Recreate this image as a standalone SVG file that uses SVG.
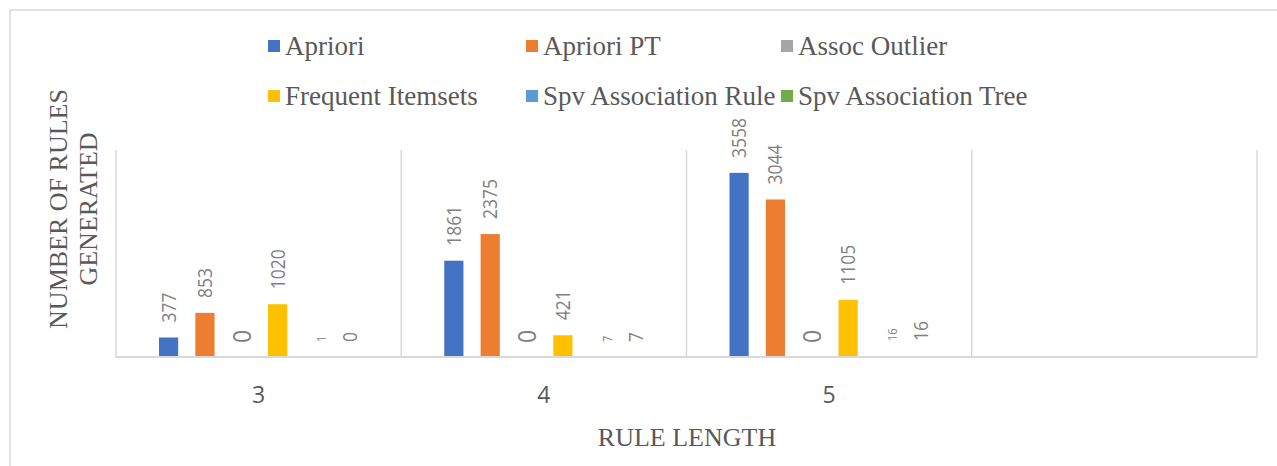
<svg xmlns="http://www.w3.org/2000/svg" width="1277" height="466" viewBox="0 0 1277 466">
<style>
.grid{stroke:#D9D9D9;stroke-width:1.5;fill:none}
.axis{stroke:#D9D9D9;stroke-width:2;fill:none}
.lbl{font-family:"Open Sans","Liberation Sans",sans-serif;font-size:17.5px;fill:#7F7F7F}
.lblbig{font-family:"Open Sans","Liberation Sans",sans-serif;font-size:23px;fill:#7F7F7F}
.lblsm{font-family:"Open Sans","Liberation Sans",sans-serif;font-size:11px;fill:#7F7F7F}
.cat{font-family:"Open Sans","Liberation Sans",sans-serif;font-size:23px;fill:#595959;text-anchor:middle}
.title{font-family:"Liberation Serif","Times New Roman",serif;font-size:26px;fill:#595959}
.leg{font-family:"Liberation Serif","Times New Roman",serif;font-size:27px;fill:#595959}
.s1{fill:#4472C4}.s2{fill:#ED7D31}.s3{fill:#A5A5A5}.s4{fill:#FFC000}.s5{fill:#5B9BD5}.s6{fill:#70AD47}
</style>
<rect x="0" y="0" width="1277" height="466" fill="#FFFFFF"/>
<rect id="chart-border" x="10" y="10" width="1300" height="500" class="grid"/>

<g id="gridlines">
<line class="grid" x1="116" y1="150" x2="116" y2="357"/>
<line class="grid" x1="401.25" y1="150" x2="401.25" y2="357"/>
<line class="grid" x1="686.5" y1="150" x2="686.5" y2="357"/>
<line class="grid" x1="971.75" y1="150" x2="971.75" y2="357"/>
<line class="grid" x1="1257" y1="150" x2="1257" y2="357"/>
</g>

<g id="legend">
<rect class="s1" x="268" y="40" width="12" height="12"/><text class="leg" x="285" y="55">Apriori</text>
<rect class="s2" x="526" y="40" width="12" height="12"/><text class="leg" x="543" y="55">Apriori PT</text>
<rect class="s3" x="781" y="40" width="12" height="12"/><text class="leg" x="798" y="55">Assoc Outlier</text>
<rect class="s4" x="268" y="90" width="12" height="12"/><text class="leg" x="285" y="105">Frequent Itemsets</text>
<rect class="s5" x="526" y="90" width="12" height="12"/><text class="leg" x="543" y="105">Spv Association Rule</text>
<rect class="s6" x="781" y="90" width="12" height="12"/><text class="leg" x="798" y="105">Spv Association Tree</text>
</g>

<g id="cat-3">
<rect class="s1" x="159" y="337.49" width="19.2" height="19.51"/>
<rect class="s2" x="195.35" y="312.86" width="19.2" height="44.14"/>
<rect class="s4" x="268.05" y="304.21" width="19.2" height="52.79"/>
<rect class="s5" x="304.4" y="356.95" width="19.2" height="0.05"/>
<text class="lbl" transform="translate(175.6,322.5) scale(1.12,1) rotate(-90)">377</text>
<text class="lbl" transform="translate(211.95,297.9) scale(1.12,1) rotate(-90)">853</text>
<text class="lblbig" transform="translate(250.5,343) scale(1.12,1) rotate(-90)">0</text>
<text class="lbl" transform="translate(284.65,289.2) scale(1.12,1) rotate(-90)">1020</text>
<text class="lblsm" transform="translate(326.4,342) scale(1.12,1) rotate(-90)">1</text>
<text class="lbl" transform="translate(357.35,342) scale(1.12,1) rotate(-90)">0</text>
<text class="cat" x="258.6" y="403">3</text>
</g>

<g id="cat-4">
<rect class="s1" x="444.25" y="260.69" width="19.2" height="96.31"/>
<rect class="s2" x="480.6" y="234.09" width="19.2" height="122.91"/>
<rect class="s4" x="553.3" y="335.21" width="19.2" height="21.79"/>
<rect class="s5" x="589.65" y="356.64" width="19.2" height="0.36"/>
<rect class="s6" x="626" y="356.64" width="19.2" height="0.36"/>
<text class="lbl" transform="translate(460.85,245.7) scale(1.12,1) rotate(-90)">1861</text>
<text class="lbl" transform="translate(497.2,219.1) scale(1.12,1) rotate(-90)">2375</text>
<text class="lblbig" transform="translate(535.8,343) scale(1.12,1) rotate(-90)">0</text>
<text class="lbl" transform="translate(569.9,320.2) scale(1.12,1) rotate(-90)">421</text>
<text class="lblsm" transform="translate(611.65,342) scale(1.12,1) rotate(-90)">7</text>
<text class="lbl" transform="translate(642.6,342) scale(1.12,1) rotate(-90)">7</text>
<text class="cat" x="543.9" y="403">4</text>
</g>

<g id="cat-5">
<rect class="s1" x="729.5" y="172.87" width="19.2" height="184.13"/>
<rect class="s2" x="765.85" y="199.47" width="19.2" height="157.53"/>
<rect class="s4" x="838.55" y="299.82" width="19.2" height="57.18"/>
<rect class="s5" x="874.9" y="356.17" width="19.2" height="0.83"/>
<rect class="s6" x="911.25" y="356.17" width="19.2" height="0.83"/>
<text class="lbl" transform="translate(746.1,157.9) scale(1.12,1) rotate(-90)">3558</text>
<text class="lbl" transform="translate(782.45,184.5) scale(1.12,1) rotate(-90)">3044</text>
<text class="lblbig" transform="translate(821,343) scale(1.12,1) rotate(-90)">0</text>
<text class="lbl" transform="translate(855.15,284.8) scale(1.12,1) rotate(-90)">1105</text>
<text class="lblsm" transform="translate(896.9,341) scale(1.12,1) rotate(-90)">16</text>
<text class="lbl" transform="translate(927.85,341) scale(1.12,1) rotate(-90)">16</text>
<text class="cat" x="829.1" y="403">5</text>
</g>

<g id="axes">
<line class="axis" x1="116" y1="357" x2="1257" y2="357"/>
</g>

<g id="axis-titles">
<text class="title" text-anchor="middle" transform="translate(67,209) rotate(-90)">NUMBER OF RULES</text>
<text class="title" text-anchor="middle" transform="translate(97,209) rotate(-90)">GENERATED</text>
<text class="title" text-anchor="middle" x="687" y="446">RULE LENGTH</text>
</g>
</svg>
